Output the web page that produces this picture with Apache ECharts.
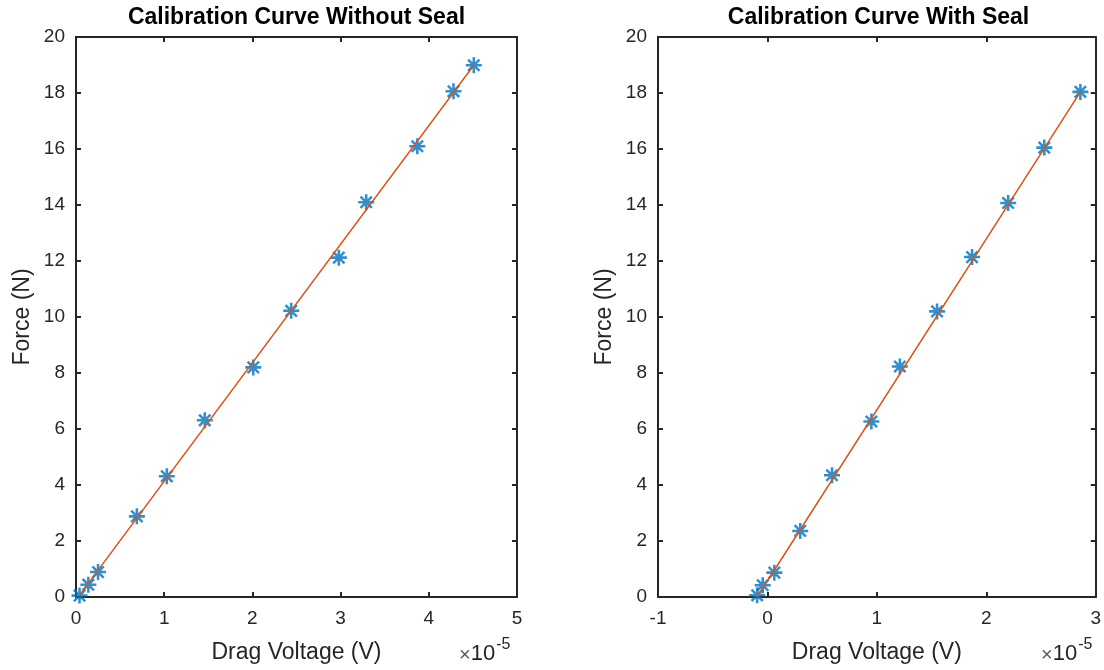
<!DOCTYPE html>
<html>
<head>
<meta charset="utf-8">
<script src="https://cdn.jsdelivr.net/npm/echarts@6/dist/echarts.min.js"></script>
<style>
  html, body { margin: 0; padding: 0; background: #fff; }
  #chart { width: 1104px; height: 670px; }
</style>
</head>
<body>
<div id="chart"></div>
<script>
// Drag voltage in units of 1e-5 V, force in N.
const noSealVoltage = [0.04, 0.14, 0.25, 0.69, 1.03, 1.46, 2.01, 2.44, 2.98, 3.29, 3.87, 4.28, 4.51];
const noSealForce   = [0.05, 0.44, 0.89, 2.88, 4.31, 6.31, 8.20, 10.22, 12.12, 14.10, 16.10, 18.06, 18.99];
// Linear fit end points (without seal)
const noSealFitVoltage = [0.034, 4.51];
const noSealFitForce   = [0.04, 18.99];

const sealVoltage = [-0.094, -0.043, 0.063, 0.30, 0.59, 0.95, 1.21, 1.55, 1.87, 2.20, 2.53, 2.86];
const sealForce   = [0.06, 0.42, 0.87, 2.36, 4.35, 6.27, 8.23, 10.20, 12.14, 14.07, 16.05, 18.04];
// Linear fit end points (with seal)
const sealFitVoltage = [-0.094, 2.86];
const sealFitForce   = [0.0, 18.04];

const titles = ['Calibration Curve Without Seal', 'Calibration Curve With Seal'];
const xName = 'Drag Voltage (V)';
const yName = 'Force (N)';
const xRanges = [[0, 5], [-1, 3]];
const yRange = [0, 20];

const FONT = 'Liberation Sans, Arial, Helvetica, sans-serif';
const AX = '#262626';
const BLUE = '#0072BD';
const ORANGE = '#D95319';

// Eight-armed asterisk marker built from filled bars
const STAR = 'path://M0 42 L100 42 L100 58 L0 58 Z M42 0 L58 0 L58 100 L42 100 Z ' +
  'M20 9 L91 80 L80 91 L9 20 Z M91 20 L20 91 L9 80 L80 9 Z';

const grids = [
  { left: 76, top: 37, width: 441, height: 560 },
  { left: 658, top: 37, width: 441, height: 560 }
];

function pairs(xs, ys) { return xs.map((x, i) => [x, ys[i]]); }

const xAxes = [], yAxes = [];
grids.forEach((g, i) => {
  const lineStyle = { color: AX, width: 2 };
  xAxes.push({
    gridIndex: i, type: 'value', position: 'bottom',
    min: xRanges[i][0], max: xRanges[i][1], interval: 1,
    name: xName, nameLocation: 'middle', nameGap: 44,
    nameTextStyle: { fontFamily: FONT, fontSize: 23, color: AX },
    axisLine: { show: true, onZero: false, lineStyle },
    axisTick: { show: true, inside: true, length: 5, lineStyle },
    axisLabel: { fontFamily: FONT, fontSize: 19, color: AX, margin: 12 },
    splitLine: { show: false }
  });
  xAxes.push({
    gridIndex: i, type: 'value', position: 'top',
    min: xRanges[i][0], max: xRanges[i][1], interval: 1,
    axisLine: { show: true, onZero: false, lineStyle },
    axisTick: { show: true, inside: true, length: 5, lineStyle },
    axisLabel: { show: false }, splitLine: { show: false }
  });
  yAxes.push({
    gridIndex: i, type: 'value', position: 'left',
    min: yRange[0], max: yRange[1], interval: 2,
    name: yName, nameLocation: 'middle', nameGap: 42,
    nameTextStyle: { fontFamily: FONT, fontSize: 23, color: AX },
    axisLine: { show: true, onZero: false, lineStyle },
    axisTick: { show: true, inside: true, length: 5, lineStyle },
    axisLabel: { fontFamily: FONT, fontSize: 19, color: AX, margin: 11 },
    splitLine: { show: false }
  });
  yAxes.push({
    gridIndex: i, type: 'value', position: 'right',
    min: yRange[0], max: yRange[1], interval: 2,
    axisLine: { show: true, onZero: false, lineStyle },
    axisTick: { show: true, inside: true, length: 5, lineStyle },
    axisLabel: { show: false }, splitLine: { show: false }
  });
});

function markers(i, xs, ys) {
  return {
    type: 'scatter', xAxisIndex: i * 2, yAxisIndex: i * 2,
    data: pairs(xs, ys), symbol: STAR, symbolSize: 16,
    itemStyle: { color: BLUE }, z: 2, silent: true
  };
}
function fit(i, xs, ys) {
  return {
    type: 'line', xAxisIndex: i * 2, yAxisIndex: i * 2,
    data: pairs(xs, ys), showSymbol: false, symbol: 'none',
    lineStyle: { color: ORANGE, width: 1.5 }, z: 3, silent: true, animation: false
  };
}

function multiplier(x, y) {
  return {
    type: 'text', left: x, top: y, silent: true,
    style: {
      text: '{m|×}{b|10}{e|-5}',
      rich: {
        m: { fontFamily: FONT, fontSize: 20, fill: '#595959', verticalAlign: 'bottom' },
        b: { fontFamily: FONT, fontSize: 22, fill: AX, verticalAlign: 'bottom' },
        e: { fontFamily: FONT, fontSize: 16, fill: AX, verticalAlign: 'top', padding: [0, 0, 12, 1] }
      }
    }
  };
}

const chart = echarts.init(document.getElementById('chart'), null, { renderer: 'canvas' });
chart.setOption({
  animation: false,
  backgroundColor: '#fff',
  grid: grids,
  xAxis: xAxes,
  yAxis: yAxes,
  graphic: [
    { type: 'text', x: 296.5, y: 6, silent: true,
      style: { text: titles[0], fontFamily: FONT, fontSize: 23, fontWeight: 'bold', fill: '#000', textAlign: 'center' } },
    { type: 'text', x: 878.5, y: 6, silent: true,
      style: { text: titles[1], fontFamily: FONT, fontSize: 23, fontWeight: 'bold', fill: '#000', textAlign: 'center' } },
    multiplier(459, 637),
    multiplier(1041, 637)
  ],
  series: [
    markers(0, noSealVoltage, noSealForce),
    fit(0, noSealFitVoltage, noSealFitForce),
    markers(1, sealVoltage, sealForce),
    fit(1, sealFitVoltage, sealFitForce)
  ]
});
</script>
</body>
</html>
